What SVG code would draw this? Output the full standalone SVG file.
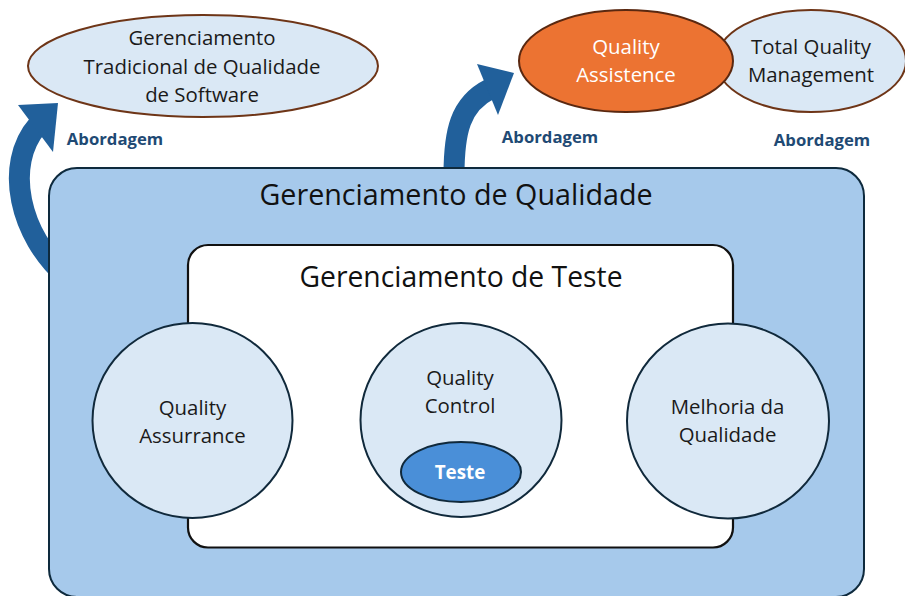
<svg xmlns="http://www.w3.org/2000/svg" width="905" height="596" viewBox="0 0 905 596">
<style>
text{font-family:"Open Sans","Liberation Sans",sans-serif;text-anchor:middle;fill:#1a1a1a}
.lbl{font-size:20.4px}
.t1{font-size:28.7px;fill:#111}
.t2{font-size:28.3px;fill:#111}
.ab{font-size:16.7px;font-weight:bold;fill:#1f4a74}
.band{fill:none;stroke:#21609b;stroke-width:21}
.head{fill:#21609b}
.circ{fill:#dae8f5;stroke:#10293b;stroke-width:2}
.top{fill:#dae8f5;stroke:#6e3517;stroke-width:2}
</style>
<rect width="905" height="596" fill="#ffffff"/>
<g id="connectors">
<g id="arrow-left">
<path class="band" d="M66,276 C20,236 3,165 38,125"/>
<polygon class="head" points="18,105 58,103 53,152"/>
</g>
<g id="arrow-right">
<path class="band" d="M454,175 C454,132 460,104 490,89"/>
<polygon class="head" points="477,64 514,73 498,115"/>
</g>
</g>
<g id="node-tradicional">
<ellipse class="top" cx="203" cy="66" rx="175" ry="51"/>
<text class="lbl" x="202" y="45">Gerenciamento</text>
<text class="lbl" x="202" y="74">Tradicional de Qualidade</text>
<text class="lbl" x="202" y="102">de Software</text>
</g>
<g id="node-tqm">
<ellipse class="top" cx="811" cy="61" rx="95" ry="51"/>
<text class="lbl" x="811" y="54">Total Quality</text>
<text class="lbl" x="811" y="82">Management</text>
</g>
<g id="node-qassist">
<ellipse cx="626" cy="61" rx="107" ry="51" fill="#ec7332" stroke="#5a2810" stroke-width="2"/>
<text class="lbl" x="626" y="54" style="fill:#ffffff">Quality</text>
<text class="lbl" x="626" y="82" style="fill:#ffffff">Assistence</text>
</g>
<g id="label-abordagem">
<text class="ab" x="115" y="145">Abordagem</text>
<text class="ab" x="550" y="143">Abordagem</text>
<text class="ab" x="822" y="146">Abordagem</text>
</g>
<g id="node-gq">
<rect x="49" y="168" width="815" height="429" rx="28" fill="#a6c9eb" stroke="#0e2a3d" stroke-width="2"/>
<text class="t1" x="456" y="205">Gerenciamento de Qualidade</text>
</g>
<g id="node-gt">
<rect x="188" y="245" width="545" height="302.5" rx="20" fill="#ffffff" stroke="#111111" stroke-width="2.2"/>
<text class="t2" x="461" y="287">Gerenciamento de Teste</text>
</g>
<g id="node-qa">
<ellipse class="circ" cx="192.5" cy="420.5" rx="100" ry="97.5"/>
<text class="lbl" x="192.5" y="415">Quality</text>
<text class="lbl" x="192.5" y="443">Assurrance</text>
</g>
<g id="node-qc">
<ellipse class="circ" cx="461" cy="420" rx="100.5" ry="97"/>
<text class="lbl" x="460" y="385">Quality</text>
<text class="lbl" x="460" y="413">Control</text>
</g>
<g id="node-teste">
<ellipse cx="461" cy="472" rx="60" ry="30" fill="#4a8fd8" stroke="#10293b" stroke-width="2"/>
<text x="460" y="478.5" style="font-size:18.8px;font-weight:bold;fill:#ffffff">Teste</text>
</g>
<g id="node-melhoria">
<ellipse class="circ" cx="728" cy="421" rx="101" ry="97.5"/>
<text class="lbl" x="727.5" y="413.5">Melhoria da</text>
<text class="lbl" x="727.5" y="442">Qualidade</text>
</g>
</svg>
